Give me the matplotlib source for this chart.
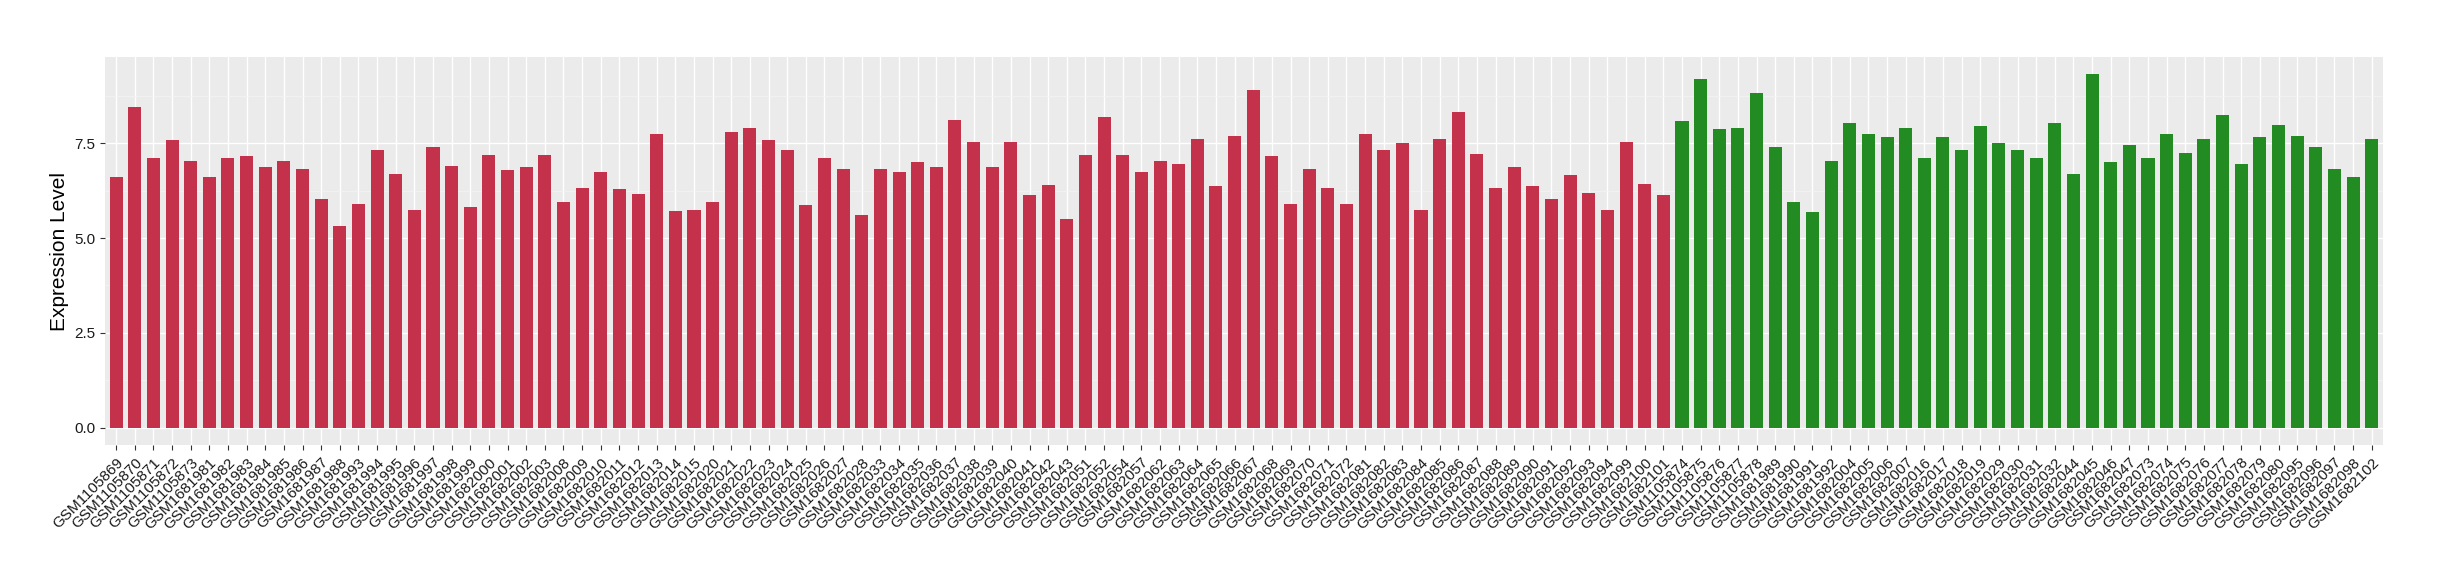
import matplotlib.pyplot as plt
import numpy as np
from matplotlib.ticker import MultipleLocator

# Échantillons du premier groupe (barres rouges)
red_samples = [
    "GSM1105869", "GSM1105870", "GSM1105871", "GSM1105872", "GSM1105873",
    "GSM1681981", "GSM1681982", "GSM1681983", "GSM1681984", "GSM1681985",
    "GSM1681986", "GSM1681987", "GSM1681988", "GSM1681993", "GSM1681994",
    "GSM1681995", "GSM1681996", "GSM1681997", "GSM1681998", "GSM1681999",
    "GSM1682000", "GSM1682001", "GSM1682002", "GSM1682003", "GSM1682008",
    "GSM1682009", "GSM1682010", "GSM1682011", "GSM1682012", "GSM1682013",
    "GSM1682014", "GSM1682015", "GSM1682020", "GSM1682021", "GSM1682022",
    "GSM1682023", "GSM1682024", "GSM1682025", "GSM1682026", "GSM1682027",
    "GSM1682028", "GSM1682033", "GSM1682034", "GSM1682035", "GSM1682036",
    "GSM1682037", "GSM1682038", "GSM1682039", "GSM1682040", "GSM1682041",
    "GSM1682042", "GSM1682043", "GSM1682051", "GSM1682052", "GSM1682054",
    "GSM1682057", "GSM1682062", "GSM1682063", "GSM1682064", "GSM1682065",
    "GSM1682066", "GSM1682067", "GSM1682068", "GSM1682069", "GSM1682070",
    "GSM1682071", "GSM1682072", "GSM1682081", "GSM1682082", "GSM1682083",
    "GSM1682084", "GSM1682085", "GSM1682086", "GSM1682087", "GSM1682088",
    "GSM1682089", "GSM1682090", "GSM1682091", "GSM1682092", "GSM1682093",
    "GSM1682094", "GSM1682099", "GSM1682100", "GSM1682101",
]
red_values = [
    6.60, 8.46, 7.10, 7.57, 7.02, 6.60, 7.10, 7.15, 6.86, 7.04,
    6.81, 6.04, 5.31, 5.89, 7.33, 6.68, 5.75, 7.41, 6.89, 5.81,
    7.18, 6.78, 6.86, 7.18, 5.96, 6.31, 6.73, 6.28, 6.15, 7.75,
    5.70, 5.73, 5.94, 7.78, 7.91, 7.57, 7.31, 5.86, 7.12, 6.81,
    5.60, 6.81, 6.75, 6.99, 6.86, 8.10, 7.52, 6.86, 7.52, 6.12,
    6.39, 5.49, 7.18, 8.20, 7.18, 6.73, 7.04, 6.94, 7.62, 6.36,
    7.70, 8.89, 7.15, 5.89, 6.83, 6.31, 5.89, 7.73, 7.33, 7.49,
    5.75, 7.62, 8.31, 7.20, 6.33, 6.86, 6.36, 6.02, 6.65, 6.18,
    5.75, 7.52, 6.41, 6.12,
]

# Échantillons du second groupe (barres vertes)
green_samples = [
    "GSM1105874", "GSM1105875", "GSM1105876", "GSM1105877", "GSM1105878",
    "GSM1681989", "GSM1681990", "GSM1681991", "GSM1681992", "GSM1682004",
    "GSM1682005", "GSM1682006", "GSM1682007", "GSM1682016", "GSM1682017",
    "GSM1682018", "GSM1682019", "GSM1682029", "GSM1682030", "GSM1682031",
    "GSM1682032", "GSM1682044", "GSM1682045", "GSM1682046", "GSM1682047",
    "GSM1682073", "GSM1682074", "GSM1682075", "GSM1682076", "GSM1682077",
    "GSM1682078", "GSM1682079", "GSM1682080", "GSM1682095", "GSM1682096",
    "GSM1682097", "GSM1682098", "GSM1682102",
]
green_values = [
    8.07, 9.20, 7.86, 7.91, 8.81, 7.39, 5.96, 5.68, 7.02, 8.02,
    7.75, 7.65, 7.91, 7.12, 7.65, 7.33, 7.96, 7.49, 7.33, 7.10,
    8.02, 6.68, 9.31, 6.99, 7.46, 7.10, 7.75, 7.25, 7.62, 8.25,
    6.96, 7.65, 7.99, 7.68, 7.41, 6.83, 6.60, 7.60,
]

samples = red_samples + green_samples
values = red_values + green_values
colors = ["#C4314B"] * len(red_samples) + ["#228B22"] * len(green_samples)
x = np.arange(len(samples))

plt.rcParams['font.family'] = ['Liberation Sans', 'DejaVu Sans']

fig = plt.figure(figsize=(24.4, 5.8), dpi=100)
ax = fig.add_axes([0.0430, 0.2319, 0.9336, 0.6703])

# Fond style ggplot
ax.set_facecolor("#EBEBEB")
for s in ax.spines.values():
    s.set_visible(False)
ax.set_axisbelow(True)

ax.bar(x, values, width=0.7, color=colors, zorder=3)

ax.set_xlim(-0.6, len(samples) - 0.4)
ymax = max(values)
ax.set_ylim(-0.05 * ymax, 1.05 * ymax)

ax.yaxis.set_minor_locator(MultipleLocator(1.25))
ax.set_yticks([0, 2.5, 5.0, 7.5])
ax.set_yticklabels(["0.0", "2.5", "5.0", "7.5"])
ax.grid(which="major", axis="both", color="white", linewidth=1.0, zorder=0)
ax.grid(which="minor", axis="y", color="#F5F5F5", linewidth=0.5, zorder=0)

ax.set_xticks(x)
ax.set_xticklabels(samples, rotation=45, ha="right", va="top",
                   rotation_mode="anchor", fontsize=11, color="#1a1a1a")
ax.tick_params(axis="y", which="major", labelsize=11, colors="#333333",
               labelcolor="#1a1a1a", length=3.5, width=0.8)
ax.tick_params(axis="x", which="major", colors="#333333",
               labelcolor="#1a1a1a", length=3.5, width=0.8)
ax.tick_params(which="minor", length=0)

ax.set_ylabel("Expression Level", fontsize=15, color="black", labelpad=4)

fig.savefig("out.png", dpi=100)
